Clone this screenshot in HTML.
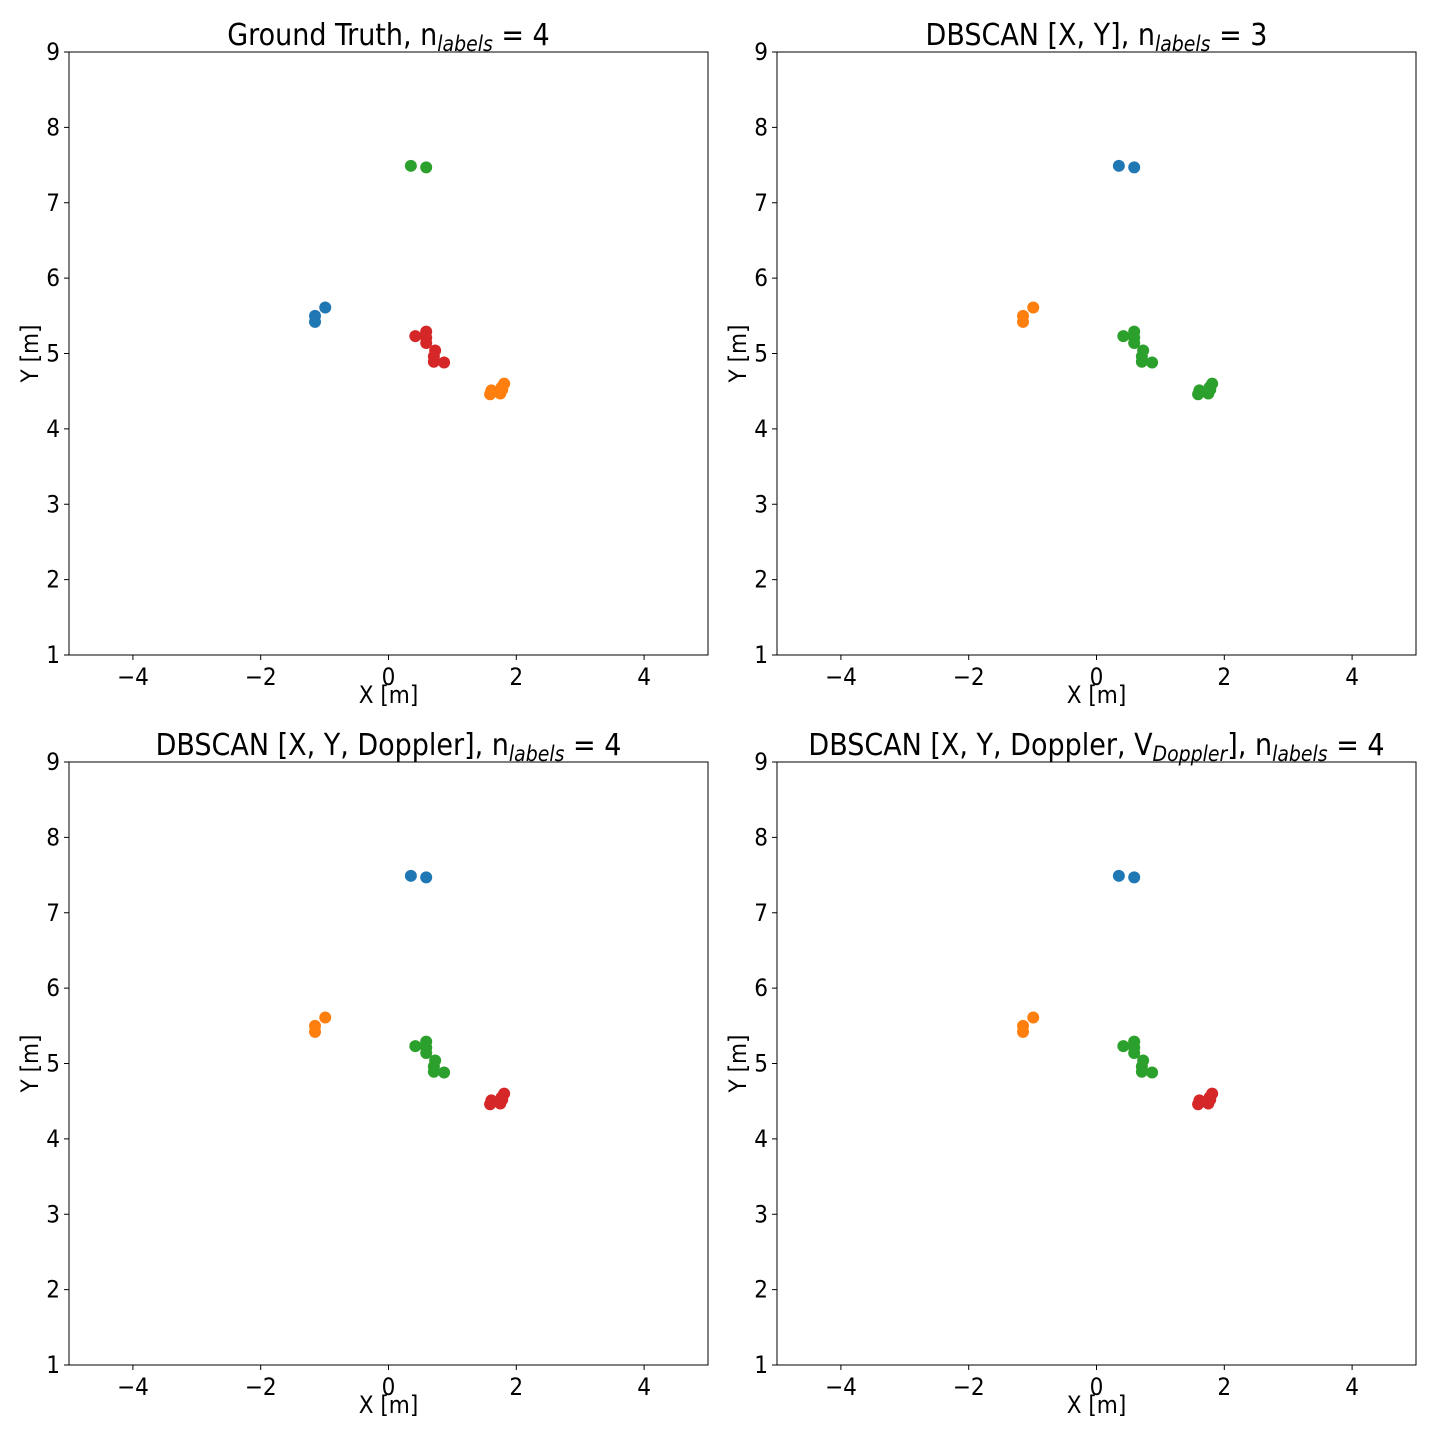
<!DOCTYPE html>
<html><head><meta charset="utf-8"><style>
html,body{margin:0;padding:0;background:#fff;}
svg{display:block;font-family:"DejaVu Sans Condensed","DejaVu Sans","Liberation Sans",sans-serif;font-stretch:condensed;}
</style></head><body>
<svg id="fig" width="1440" height="1440" viewBox="0 0 1440 1440"></svg>
<script>
const xs = [-1.15,-1.15,-0.99, 0.35,0.59, 0.42,0.59,0.59,0.59,0.73,0.71,0.71,0.87, 1.59,1.61,1.75,1.78,1.81,1.77];
const ys = [5.50,5.42,5.61, 7.49,7.47, 5.23,5.29,5.21,5.14,5.04,4.96,4.89,4.88, 4.46,4.51,4.47,4.52,4.60,4.55];
const groups = ['a','a','a','b','b','c','c','c','c','c','c','c','c','d','d','d','d','d','d'];
const xTicks = [-4,-2,0,2,4];
const yTicks = [1,2,3,4,5,6,7,8,9];
const panelColors = [
  {a:'#1f77b4',b:'#2ca02c',c:'#d62728',d:'#ff7f0e'},
  {a:'#ff7f0e',b:'#1f77b4',c:'#2ca02c',d:'#2ca02c'},
  {a:'#ff7f0e',b:'#1f77b4',c:'#2ca02c',d:'#d62728'},
  {a:'#ff7f0e',b:'#1f77b4',c:'#2ca02c',d:'#d62728'}
];
const titles = [
  ['Ground Truth, n','labels',' = 4', null],
  ['DBSCAN [X, Y], n','labels',' = 3', null],
  ['DBSCAN [X, Y, Doppler], n','labels',' = 4', null],
  ['DBSCAN [X, Y, Doppler, V','Doppler','], n','labels',' = 4']
];
const panels = [{x0:69,y0:52},{x0:777,y0:52},{x0:69,y0:762},{x0:777,y0:762}];
const W=639, H=603;
const NS='http://www.w3.org/2000/svg';
const fig=document.getElementById('fig');
function el(tag,attrs,parent){const e=document.createElementNS(NS,tag);for(const k in attrs)e.setAttribute(k,attrs[k]);(parent||fig).appendChild(e);return e;}
panels.forEach((p,pi)=>{
  const g=el('g',{});
  
  
  const sx=v=>p.x0+(v+5)/10*W;
  const sy=v=>p.y0+(9-v)/8*H;
  const t=el('text',{x:p.x0+W/2,y:p.y0-7,'text-anchor':'middle','font-size':'30'},g);
  
  
  const parts=titles[pi];
  parts.forEach((s,i)=>{ if(s===null)return; const ts=el('tspan',{},t); ts.textContent=s;
    if(i%2===1){ts.setAttribute('font-size','21');ts.setAttribute('font-style','italic');ts.setAttribute('dy','6');}
    else if(i>0){ts.setAttribute('dy','-6');}
  });
  xs.forEach((x,i)=>{
    const c=el('circle',{cx:sx(x),cy:sy(ys[i]),r:6,fill:panelColors[pi][groups[i]]},g);
    
    
  });
  const fr=el('rect',{x:p.x0,y:p.y0,width:W,height:H,fill:'none',stroke:'#000','stroke-width':1},g);
  
  
  xTicks.forEach(v=>{
    el('line',{x1:sx(v),x2:sx(v),y1:p.y0+H,y2:p.y0+H+5,stroke:'#000'},g);
    const tl=el('text',{x:sx(v),y:p.y0+H+30,'text-anchor':'middle','font-size':'24'},g);
    tl.textContent=v<0?'\u2212'+Math.abs(v):String(v);
    
    
  });
  yTicks.forEach(v=>{
    el('line',{x1:p.x0-5,x2:p.x0,y1:sy(v),y2:sy(v),stroke:'#000'},g);
    const tl=el('text',{x:p.x0-9,y:sy(v)+8,'text-anchor':'end','font-size':'24'},g);
    tl.textContent=String(v);
    
    
  });
  const xl=el('text',{x:p.x0+W/2,y:p.y0+H+48,'text-anchor':'middle','font-size':'24'},g);
  xl.textContent='X [m]';
  
  
  const yl=el('text',{x:0,y:0,'text-anchor':'middle','font-size':'24',transform:'translate('+(p.x0-31)+','+(p.y0+H/2)+') rotate(-90)'},g);
  yl.textContent='Y [m]';
  
  
});
</script>
</body></html>
